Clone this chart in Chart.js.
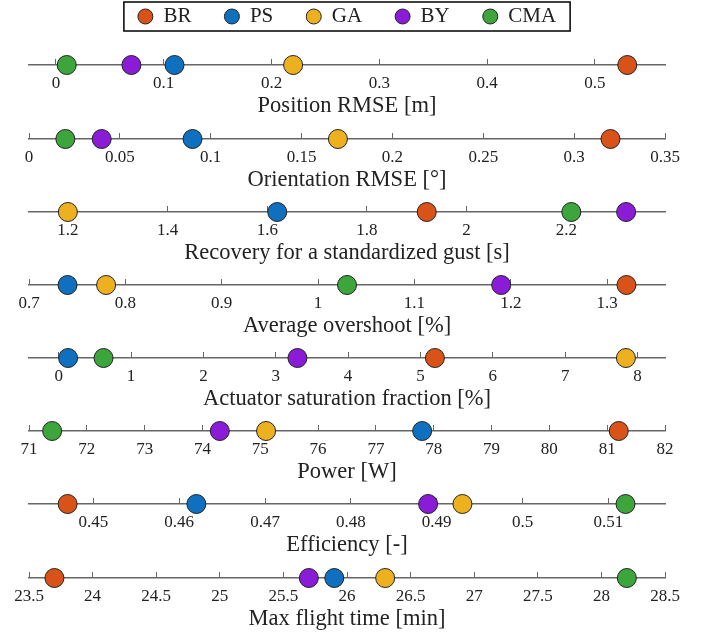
<!DOCTYPE html>
<html>
<head>
<meta charset="utf-8">
<script src="https://cdn.jsdelivr.net/npm/chart.js@4.4.0/dist/chart.umd.min.js"></script>
<style>
  html, body { margin: 0; padding: 0; background: #fff; }
  #wrap { position: relative; width: 712px; height: 635px; overflow: hidden; }
  #wrap canvas { position: absolute; left: 0; }
</style>
</head>
<body>
<div id="wrap"></div>
<script>
// methods + colours
const methods = ["BR", "PS", "GA", "BY", "CMA"];
const colors = ["#D95319", "#0F70BF", "#EDB120", "#8A1CD8", "#3CA53C"];

// one row per metric, values in method order BR, PS, GA, BY, CMA
const titles = [
    "Position RMSE [m]",
    "Orientation RMSE [°]",
    "Recovery for a standardized gust [s]",
    "Average overshoot [%]",
    "Actuator saturation fraction [%]",
    "Power [W]",
    "Efficiency [-]",
    "Max flight time [min]"
];
const posRmse = [0.53, 0.11, 0.22, 0.07, 0.01];
const oriRmse = [0.32, 0.09, 0.17, 0.04, 0.02];
const recovery = [1.92, 1.62, 1.20, 2.32, 2.21];
const overshoot = [1.32, 0.74, 0.78, 1.19, 1.03];
const saturation = [5.2, 0.13, 7.84, 3.3, 0.62];
const power = [81.2, 77.8, 75.1, 74.3, 71.4];
const efficiency = [0.447, 0.462, 0.493, 0.489, 0.512];
const flightTime = [23.7, 25.9, 26.3, 25.7, 28.2];
const series = [posRmse, oriRmse, recovery, overshoot, saturation, power, efficiency, flightTime];

// axis ranges and tick steps
const axisMin = [-0.025, 0, 1.122, 0.7, -0.41, 71, 0.4425, 23.5];
const axisMax = [0.565, 0.35, 2.398, 1.36, 8.38, 82, 0.5166, 28.5];
const tickStep = [0.1, 0.05, 0.2, 0.1, 1, 1, 0.01, 0.5];

// y position of each axis line on the page
const axisY = [65, 139, 212, 285, 358, 431, 504, 578];

const wrap = document.getElementById("wrap");
const serif = "'Liberation Serif', 'DejaVu Serif', serif";
const grey = "#666";

function addCanvas(top, h) {
    const c = document.createElement("canvas");
    c.width = 712;
    c.height = h;
    c.style.top = top + "px";
    wrap.appendChild(c);
    return c;
}

// legend with a box round it
const legendBox = {
    id: "legendBox",
    afterDraw(chart) {
        const boxes = chart.legend.legendHitBoxes;
        if (!boxes.length) return;
        const left = boxes[0].left - 14;
        const last = boxes[boxes.length - 1];
        const right = last.left + last.width + 14;
        const top = boxes[0].top - 4;
        const bottom = boxes[0].top + boxes[0].height + 4;
        const ctx = chart.ctx;
        ctx.save();
        ctx.strokeStyle = "#000";
        ctx.lineWidth = 1.5;
        ctx.strokeRect(left, top, right - left, bottom - top);
        ctx.restore();
    }
};

new Chart(addCanvas(-27, 150), {
    type: "scatter",
    data: {
        datasets: methods.map((m, i) => ({
            label: m,
            data: [],
            backgroundColor: colors[i],
            borderColor: "#222",
            borderWidth: 1,
            pointStyle: "circle"
        }))
    },
    options: {
        responsive: false,
        animation: false,
        layout: { padding: { left: 29, right: 47 } },
        scales: { x: { display: false }, y: { display: false } },
        plugins: {
            tooltip: { enabled: false },
            legend: {
                position: "top",
                maxHeight: 140,
                labels: {
                    usePointStyle: true,
                    boxWidth: 15,
                    boxHeight: 10.6,
                    padding: 33,
                    color: "#222",
                    font: { family: serif, size: 21 }
                }
            }
        }
    },
    plugins: [legendBox]
});

// one strip chart per metric
titles.forEach((title, k) => {
    const vals = series[k];
    new Chart(addCanvas(axisY[k] - 20, 79), {
        type: "scatter",
        data: {
            datasets: methods.map((m, i) => ({
                label: m,
                data: [{ x: vals[i], y: 0 }],
                backgroundColor: colors[i],
                borderColor: "#222",
                borderWidth: 1,
                pointRadius: 9.5,
                pointHoverRadius: 9.5,
                clip: false
            }))
        },
        options: {
            responsive: false,
            animation: false,
            layout: { padding: { left: 29, right: 47, top: 14, bottom: 0 } },
            scales: {
                x: {
                    type: "linear",
                    min: axisMin[k],
                    max: axisMax[k],
                    // room for labels + title, below a 6px tick strip
                    afterFit: (s) => { s.height = 59; },
                    border: { display: true, color: grey, width: 1.5 },
                    grid: {
                        drawOnChartArea: true,
                        drawTicks: false,
                        color: grey,
                        lineWidth: 1
                    },
                    ticks: {
                        stepSize: tickStep[k],
                        includeBounds: false,
                        maxRotation: 0,
                        padding: 8,
                        color: "#222",
                        font: { family: serif, size: 17 },
                        callback: (v) => String(+v.toFixed(4))
                    },
                    title: {
                        display: true,
                        text: title,
                        color: "#222",
                        padding: { top: 1, bottom: 4 },
                        font: { family: serif, size: 22.5 }
                    }
                },
                y: { display: false, min: 0, max: 1 }
            },
            plugins: {
                legend: { display: false },
                tooltip: { enabled: false }
            }
        }
    });
});
</script>
</body>
</html>
